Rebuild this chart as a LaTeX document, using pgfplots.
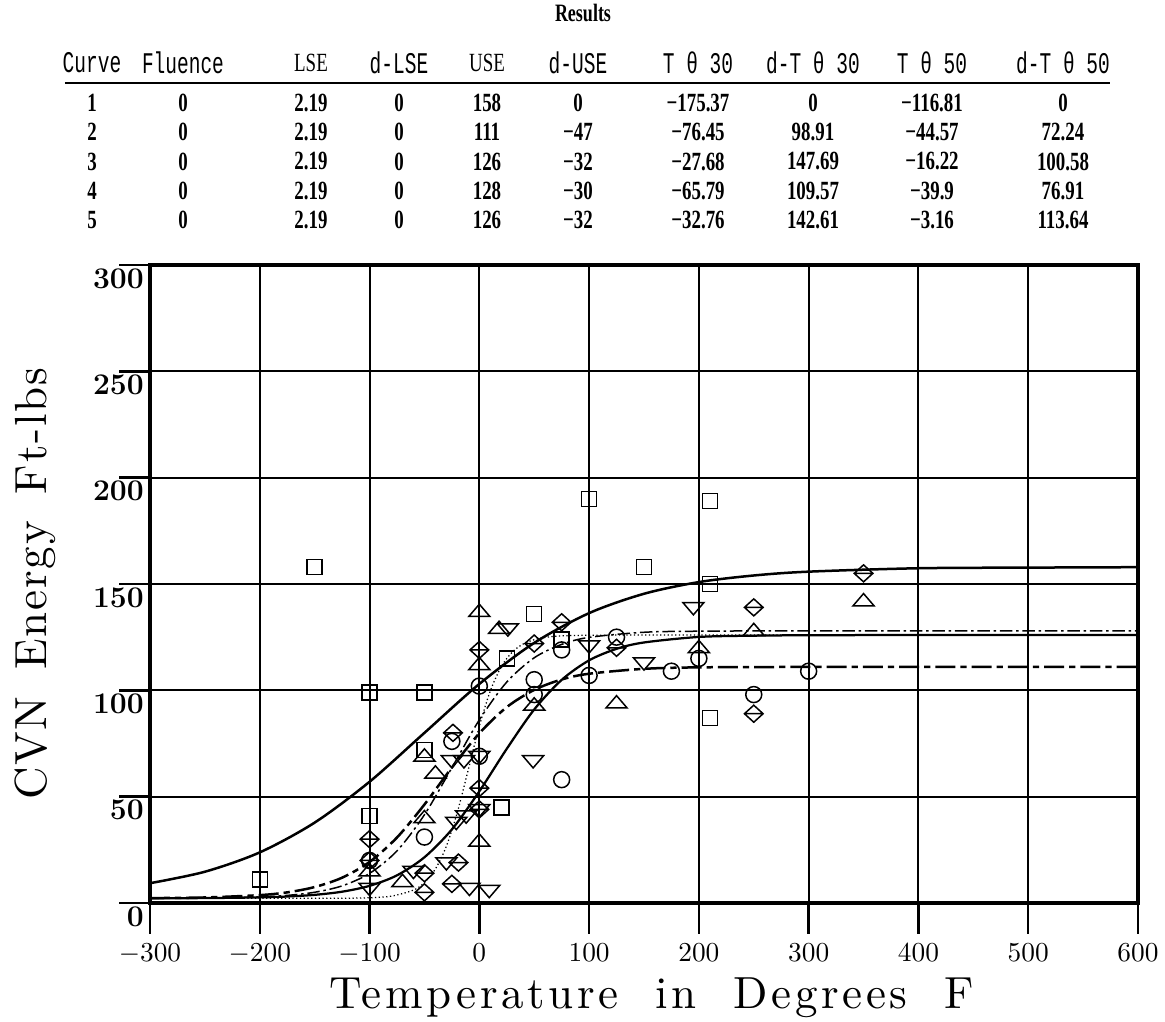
\documentclass[border=0pt]{standalone}
\usepackage{fontspec}
\usepackage{pgfplots}
\pgfplotsset{compat=1.18}
\newfontfamily\tabmono[FakeStretch=0.65]{Liberation Mono}
\newfontfamily\tabser[FakeStretch=0.72]{Liberation Serif}
\newfontfamily\xlblfont[LetterSpace=8,WordSpace=2]{lmroman10-regular.otf}
\newfontfamily\ylblfont[LetterSpace=4,WordSpace=1.6]{lmroman10-regular.otf}

% hollow marks as in the original plot
\pgfdeclareplotmark{tup}{%
  \pgfpathmoveto{\pgfqpoint{-1.2\pgfplotmarksize}{-0.55\pgfplotmarksize}}%
  \pgfpathlineto{\pgfqpoint{1.2\pgfplotmarksize}{-0.55\pgfplotmarksize}}%
  \pgfpathlineto{\pgfqpoint{0pt}{0.85\pgfplotmarksize}}%
  \pgfpathclose\pgfusepathqstroke}
\pgfdeclareplotmark{tdown}{%
  \pgfpathmoveto{\pgfqpoint{-1.2\pgfplotmarksize}{0.55\pgfplotmarksize}}%
  \pgfpathlineto{\pgfqpoint{1.2\pgfplotmarksize}{0.55\pgfplotmarksize}}%
  \pgfpathlineto{\pgfqpoint{0pt}{-0.85\pgfplotmarksize}}%
  \pgfpathclose\pgfusepathqstroke}
\pgfdeclareplotmark{hdia}{%
  \pgfpathmoveto{\pgfqpoint{-1.1\pgfplotmarksize}{0pt}}%
  \pgfpathlineto{\pgfqpoint{0pt}{\pgfplotmarksize}}%
  \pgfpathlineto{\pgfqpoint{1.1\pgfplotmarksize}{0pt}}%
  \pgfpathlineto{\pgfqpoint{0pt}{-\pgfplotmarksize}}%
  \pgfpathclose
  \pgfpathmoveto{\pgfqpoint{-1.1\pgfplotmarksize}{0pt}}%
  \pgfpathlineto{\pgfqpoint{1.1\pgfplotmarksize}{0pt}}%
  \pgfusepathqstroke}

\begin{document}
\begin{tikzpicture}[x=1pt,y=1pt]
\useasboundingbox (-60,-47.6) rectangle (406,361.2);
\begin{axis}[at={(0,0)}, anchor=south west, scale only axis,
  width=395.2pt, height=255.2pt,
  xmin=-300, xmax=600, ymin=0, ymax=300,
  xtick={-300,-200,...,600}, ytick={0,50,...,300},
  major tick length=0pt, clip=false, unbounded coords=jump,
  grid=major, major grid style={black, line width=0.8pt},
  axis line style={line width=1.8pt},
  xticklabel style={anchor=north, yshift=-13pt, font=\fontsize{11}{11}\selectfont},
  yticklabel style={anchor=north east, xshift=1pt, yshift=2pt, font=\boldmath\fontsize{12.5}{12.5}\selectfont},
  xlabel={\xlblfont Temperature in Degrees F},
  ylabel={\ylblfont CVN Energy Ft-lbs},
  xlabel style={at={(axis description cs:0.508,0)}, anchor=center, yshift=-38pt, font=\fontsize{18}{18}\selectfont},
  ylabel style={at={(axis description cs:-0.1164,0.5)}, anchor=center, font=\fontsize{18}{18}\selectfont},
  mark options={solid, line width=0.6pt}]

% outward tick marks, bottom and left
\addplot[black, line width=1pt, forget plot] coordinates {(-300,0) (-300,-14.7) (-300,nan) (-200,0) (-200,-14.7) (-200,nan) (-100,0) (-100,-14.7) (-100,nan) (0,0) (0,-14.7) (0,nan) (100,0) (100,-14.7) (100,nan) (200,0) (200,-14.7) (200,nan) (300,0) (300,-14.7) (300,nan) (400,0) (400,-14.7) (400,nan) (500,0) (500,-14.7) (500,nan) (600,0) (600,-14.7)};
\addplot[black, line width=1pt, forget plot] coordinates {(-300,0) (-328.5,0) (nan,0) (-300,50) (-328.5,50) (nan,50) (-300,100) (-328.5,100) (nan,100) (-300,150) (-328.5,150) (nan,150) (-300,200) (-328.5,200) (nan,200) (-300,250) (-328.5,250) (nan,250) (-300,300) (-328.5,300)};

% fitted curves (tanh fits, table parameters)
\addplot[black, line width=1pt, smooth] coordinates {(-300,9.3) (-250,14.7) (-200,23.8) (-150,37.8) (-100,57.0) (-50,80.0) (0,103.0) (50,122.3) (100,136.3) (150,145.4) (200,150.9) (250,154.0) (300,155.8) (400,157.4) (500,157.7) (600,157.9)};
\addplot[black, line width=1pt, smooth, dash pattern=on 8pt off 2pt on 2.5pt off 2pt] coordinates {(-300,2.3) (-250,2.6) (-200,3.7) (-175,5.0) (-150,7.5) (-125,11.9) (-100,19.3) (-75,30.8) (-50,46.3) (-25,63.7) (0,79.8) (25,92.1) (50,100.2) (75,105.1) (100,107.8) (150,110.1) (200,110.8) (300,111.0) (400,111.0) (500,111.0) (600,111.0)};
\addplot[black, line width=0.5pt, smooth, densely dotted] coordinates {(-300,2.19) (-200,2.19) (-150,2.2) (-120,2.26) (-100,2.46) (-80,3.22) (-60,6.08) (-50,9.61) (-40,16.0) (-30,26.7) (-20,42.7) (-10,62.8) (0,83.1) (10,99.7) (20,111.1) (30,118.0) (40,121.8) (50,123.8) (60,124.9) (75,125.6) (100,125.9) (150,126.0) (200,126) (300,126) (400,126) (500,126) (600,126)};
\addplot[black, line width=0.6pt, smooth, dash pattern=on 5pt off 1.5pt on 1pt off 1.5pt] coordinates {(-300,2.22) (-250,2.34) (-200,2.85) (-175,3.57) (-150,5.05) (-125,8.05) (-100,13.9) (-75,24.5) (-50,41.5) (-25,63.6) (0,86.1) (25,103.9) (50,115.3) (75,121.6) (100,124.9) (150,127.3) (200,127.8) (300,128.0) (400,128) (500,128) (600,128)};
\addplot[black, line width=0.9pt, smooth] coordinates {(-300,2.22) (-250,2.31) (-200,2.64) (-175,3.05) (-150,3.83) (-125,5.31) (-100,8.06) (-75,13.0) (-50,21.5) (-25,34.6) (0,52.5) (25,72.5) (50,91.0) (75,104.9) (100,114.1) (125,119.5) (150,122.5) (200,125.1) (250,125.7) (300,125.9) (400,126) (500,126) (600,126)};

% measured points
\addplot[black, only marks, mark=square, mark size=3pt] coordinates {(-200,11) (-150,158) (-100,99) (-50,99) (-100,41) (-50,72) (20,45) (25,115) (50,136) (75,124) (100,190) (150,158) (210,150) (210,87) (210,189)};
\addplot[black, only marks, mark=o, mark size=3.2pt] coordinates {(-100,20) (-50,31) (-25,76) (0,102) (0,69) (50,105) (50,98) (75,119) (75,58) (100,107) (125,125) (175,109) (200,115) (250,98) (300,109)};
\addplot[black, only marks, mark=tup, mark size=3.5pt] coordinates {(-100,15) (-70,10) (-50,40) (-40,61) (-50,69) (0,137) (0,112) (0,29) (18,129) (50,93) (125,94) (200,120) (250,128) (350,142)};
\addplot[black, only marks, mark=hdia, mark size=3.4pt] coordinates {(-100,30) (-100,20) (-50,14) (-50,5) (-25,9) (-19,19) (-24,80) (0,119) (0,54) (0,44) (50,122) (75,132) (125,120) (250,139) (250,89) (350,155)};
\addplot[black, only marks, mark=tdown, mark size=3.5pt] coordinates {(-100,7) (-60,15) (-30,19) (-21,38) (-12,41) (0,44) (-25,67) (-14,67) (0,69) (-9,7) (9,6) (26,129) (49,67) (100,121) (150,113) (195,139)};
\end{axis}

% results table above the plot
\node[font=\tabser\bfseries\fontsize{10}{10}\selectfont] at (173.2,356) {Results};
\begin{scope}[every node/.style={font=\tabmono\fontsize{12}{12}\selectfont}]
\node at (-23.2,336) {Curve};
\node at (13.2,336) {Fluence};
\node[font=\tabser\fontsize{10.5}{10.5}\selectfont] at (64.4,336) {LSE};
\node at (99.6,336) {d-LSE};
\node[font=\tabser\fontsize{10.5}{10.5}\selectfont] at (134.8,336) {USE};
\node at (171.2,336) {d-USE};
\node at (219.2,336) {T θ 30};
\node at (265.2,336) {d-T θ 30};
\node at (312.8,336) {T θ 50};
\node at (365.2,336) {d-T θ 50};
\end{scope}
\draw[line width=0.8pt] (-34,328) -- (384,328);
\foreach \y/\a/\b/\c/\d/\e/\f/\g/\h/\i/\j in {
  320/1/0/2.19/0/158/0/−175.37/0/−116.81/0,
  308.3/2/0/2.19/0/111/−47/−76.45/98.91/−44.57/72.24,
  296.6/3/0/2.19/0/126/−32/−27.68/147.69/−16.22/100.58,
  284.9/4/0/2.19/0/128/−30/−65.79/109.57/−39.9/76.91,
  273.2/5/0/2.19/0/126/−32/−32.76/142.61/−3.16/113.64}{
  \begin{scope}[every node/.style={font=\tabser\bfseries\fontsize{10.5}{10.5}\selectfont}]
  \node at (-23.2,\y) {\a};
  \node at (13.2,\y) {\b};
  \node at (64.4,\y) {\c};
  \node at (99.6,\y) {\d};
  \node at (134.8,\y) {\e};
  \node at (171.2,\y) {\f};
  \node at (219.2,\y) {\g};
  \node at (265.2,\y) {\h};
  \node at (312.8,\y) {\i};
  \node at (365.2,\y) {\j};
  \end{scope}}
\end{tikzpicture}
\end{document}
